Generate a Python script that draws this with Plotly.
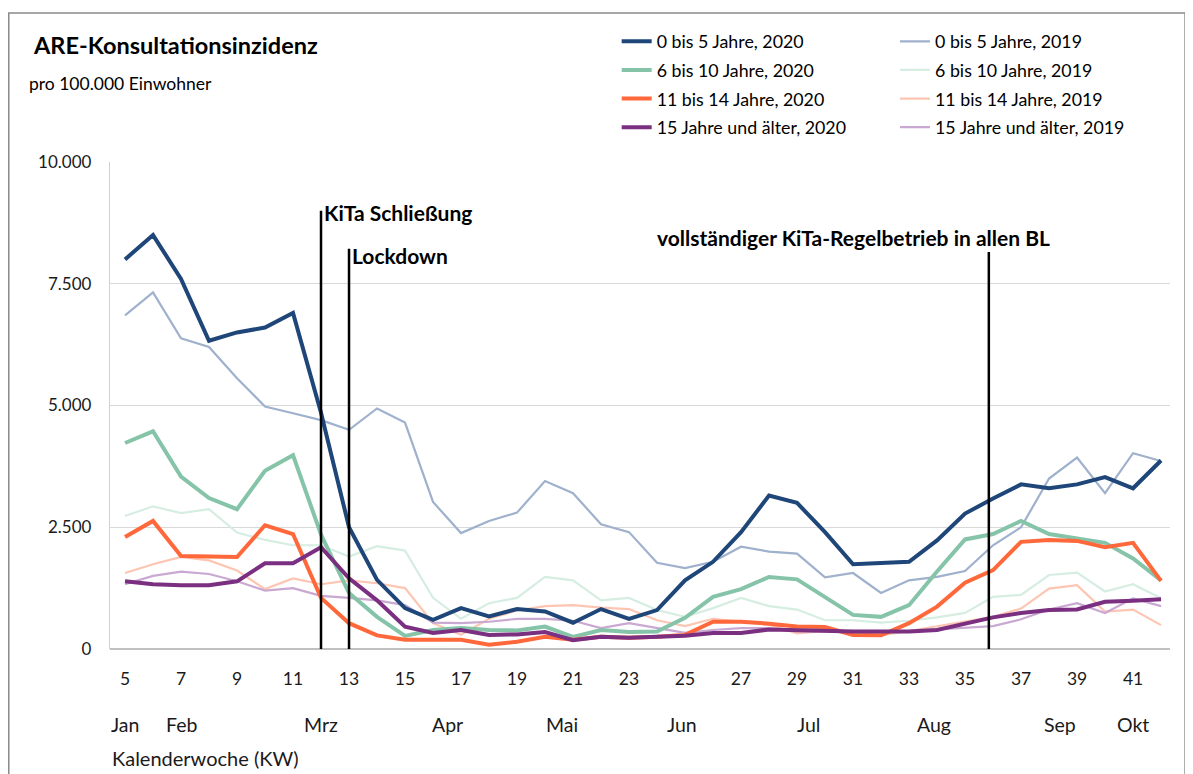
import plotly.graph_objects as go

weeks = list(range(5, 43))

age_0_5_2020 = [8000, 8500, 7600, 6330, 6500, 6600, 6900, 4850, 2500, 1420, 840, 600, 840, 670, 820, 770, 540, 820, 620, 800,
                1410, 1790, 2400, 3150, 3000, 2400, 1740, 1770, 1790, 2230, 2780, 3090, 3380, 3300, 3380, 3530, 3300, 3870]
age_0_5_2019 = [6850, 7320, 6380, 6200, 5560, 4980, 4840, 4700, 4500, 4940, 4650, 3020, 2380, 2630, 2800, 3450, 3200, 2560, 2400, 1770,
                1660, 1790, 2100, 2000, 1960, 1470, 1560, 1150, 1410, 1480, 1600, 2130, 2500, 3500, 3930, 3200, 4020, 3860]
age_6_10_2020 = [4230, 4470, 3540, 3100, 2870, 3660, 3980, 2350, 1150, 660, 270, 390, 430, 390, 380, 460, 250, 390, 350, 360,
                 640, 1070, 1230, 1480, 1430, 1070, 700, 660, 900, 1590, 2250, 2360, 2630, 2360, 2270, 2180, 1860, 1410]
age_6_10_2019 = [2730, 2930, 2790, 2870, 2390, 2240, 2130, 2130, 1900, 2110, 2020, 1050, 620, 940, 1050, 1480, 1410, 1000, 1050, 800,
                 660, 840, 1050, 880, 810, 590, 590, 540, 580, 650, 740, 1070, 1110, 1520, 1570, 1180, 1330, 1040]
age_11_14_2020 = [2300, 2630, 1910, 1910, 1890, 2540, 2360, 1050, 530, 280, 190, 190, 190, 90, 150, 250, 190, 250, 230, 250,
                  290, 560, 560, 520, 460, 450, 290, 280, 530, 870, 1360, 1620, 2200, 2240, 2220, 2090, 2180, 1400]
age_11_14_2019 = [1560, 1740, 1890, 1820, 1610, 1230, 1450, 1330, 1410, 1350, 1250, 530, 290, 620, 790, 880, 900, 850, 820, 590,
                  470, 620, 560, 500, 320, 370, 340, 280, 370, 470, 560, 660, 830, 1240, 1310, 770, 810, 490]
age_15p_2020 = [1390, 1330, 1310, 1310, 1390, 1760, 1760, 2090, 1450, 1000, 460, 330, 390, 290, 300, 350, 180, 250, 230, 250,
                270, 330, 330, 400, 380, 380, 360, 360, 360, 390, 530, 650, 740, 800, 810, 970, 990, 1020]
age_15p_2019 = [1330, 1500, 1590, 1540, 1390, 1200, 1250, 1090, 1050, 1000, 900, 540, 530, 560, 620, 620, 580, 430, 530, 430,
                330, 390, 430, 430, 360, 370, 360, 360, 370, 400, 430, 470, 610, 810, 940, 740, 1040, 880]

names_2020 = ["0 bis 5 Jahre, 2020", "6 bis 10 Jahre, 2020", "11 bis 14 Jahre, 2020", "15 Jahre und älter, 2020"]
names_2019 = ["0 bis 5 Jahre, 2019", "6 bis 10 Jahre, 2019", "11 bis 14 Jahre, 2019", "15 Jahre und älter, 2019"]
colors_2020 = ["#1f4678", "#86c4a9", "#ff683b", "#7a2f80"]
colors_2019 = ["#9fb1cd", "#d6ede2", "#fdc5b2", "#c9a8d2"]

x_tick_vals = list(range(5, 42, 2))
y_tick_vals = [0, 2500, 5000, 7500, 10000]

month_labels = ["Jan", "Feb", "Mrz", "Apr", "Mai", "Jun", "Jul", "Aug", "Sep", "Okt"]
month_pos = [5, 7, 12, 16.5, 20.6, 24.9, 29.4, 33.9, 38.4, 41]

events = ["KiTa Schließung", "Lockdown", "vollständiger KiTa-Regelbetrieb in allen BL"]
event_week = [12, 13, 35.85]
event_top = [9000, 8220, 8150]
event_text_x = [12, 13, 23.93]
event_text_y = [8970, 8090, 8450]

series_2020 = [age_0_5_2020, age_6_10_2020, age_11_14_2020, age_15p_2020]
series_2019 = [age_0_5_2019, age_6_10_2019, age_11_14_2019, age_15p_2019]

FONT = "Lato, 'Open Sans', sans-serif"

fig = go.Figure()
for i, (n, c, s) in enumerate(zip(names_2019, colors_2019, series_2019)):
    fig.add_trace(go.Scatter(x=weeks, y=s, mode="lines", name=n, line=dict(color=c, width=2.2),
                             legend="legend2", legendgroup="b%d" % i, legendrank=i + 1))
for i, (n, c, s) in enumerate(zip(names_2020, colors_2020, series_2020)):
    fig.add_trace(go.Scatter(x=weeks, y=s, mode="lines", name=n, line=dict(color=c, width=4),
                             legend="legend", legendgroup="a%d" % i, legendrank=i + 1))

shapes = []
for wk, top in zip(event_week, event_top):
    shapes.append(dict(type="line", xref="x", yref="y", x0=wk, x1=wk, y0=0, y1=top,
                       line=dict(color="black", width=2.5)))
# outer frame
shapes.append(dict(type="rect", xref="paper", yref="paper", x0=-0.0955, x1=1.0142, y0=-0.3, y1=1.306,
                   line=dict(color="#8a8a8a", width=1.5), layer="below"))

annotations = []
for i, (t, tx, ty) in enumerate(zip(events, event_text_x, event_text_y)):
    annotations.append(dict(text="<b>%s</b>" % t, x=tx, y=ty, xref="x", yref="y", xanchor="left",
                            yanchor="middle", showarrow=False, xshift=1 if i < 2 else 0,
                            font=dict(size=21, color="black", family=FONT)))
for m, p in zip(month_labels, month_pos):
    annotations.append(dict(text=m, x=p, y=-0.155, xref="x", yref="paper", xanchor="center",
                            yanchor="middle", showarrow=False, font=dict(size=19.5, color="#1a1a1a", family=FONT)))
annotations.append(dict(text="Kalenderwoche (KW)", x=4.464, y=-0.224, xref="x", yref="paper", xanchor="left",
                        yanchor="middle", showarrow=False, font=dict(size=20, color="#1a1a1a", family=FONT)))
annotations.append(dict(text="<b>ARE-Konsultationsinzidenz</b>", x=-0.075, y=1.24, xref="paper", yref="paper",
                        xanchor="left", yanchor="middle", showarrow=False,
                        font=dict(size=23.5, color="black", family=FONT)))
annotations.append(dict(text="pro 100.000 Einwohner", x=-0.078, y=1.162, xref="paper", yref="paper",
                        xanchor="left", yanchor="middle", showarrow=False,
                        font=dict(size=17.5, color="black", family=FONT)))

legend_common = dict(orientation="v", yanchor="top", xanchor="left", bgcolor="rgba(0,0,0,0)",
                     font=dict(size=17.8, color="black", family=FONT), tracegroupgap=2.5, traceorder="grouped")

fig.update_layout(
    width=1185, height=766,
    margin=dict(l=102, r=23, t=154, b=125),
    paper_bgcolor="white", plot_bgcolor="white",
    separators=",.",
    font=dict(family=FONT, color="black"),
    xaxis=dict(range=[4.464, 42.32], tickvals=x_tick_vals, ticks="", showgrid=False, zeroline=False,
               showline=False, tickfont=dict(size=17.5, color="#1a1a1a"), ticklabelstandoff=17),
    yaxis=dict(range=[0, 10000], tickvals=y_tick_vals, tickformat=",d", ticks="", showgrid=True,
               gridcolor="#d9d9d9", gridwidth=1.3, zeroline=True, zerolinecolor="#c0c0c0", zerolinewidth=1.5,
               showline=True, linecolor="#d0d0d0", linewidth=1.3,
               tickfont=dict(size=17, color="#1a1a1a"), ticklabelstandoff=14),
    legend=dict(x=0.478, y=1.285, **legend_common),
    legend2=dict(x=0.7406, y=1.285, **legend_common),
    shapes=shapes,
    annotations=annotations,
)

fig.write_html("out.html")
